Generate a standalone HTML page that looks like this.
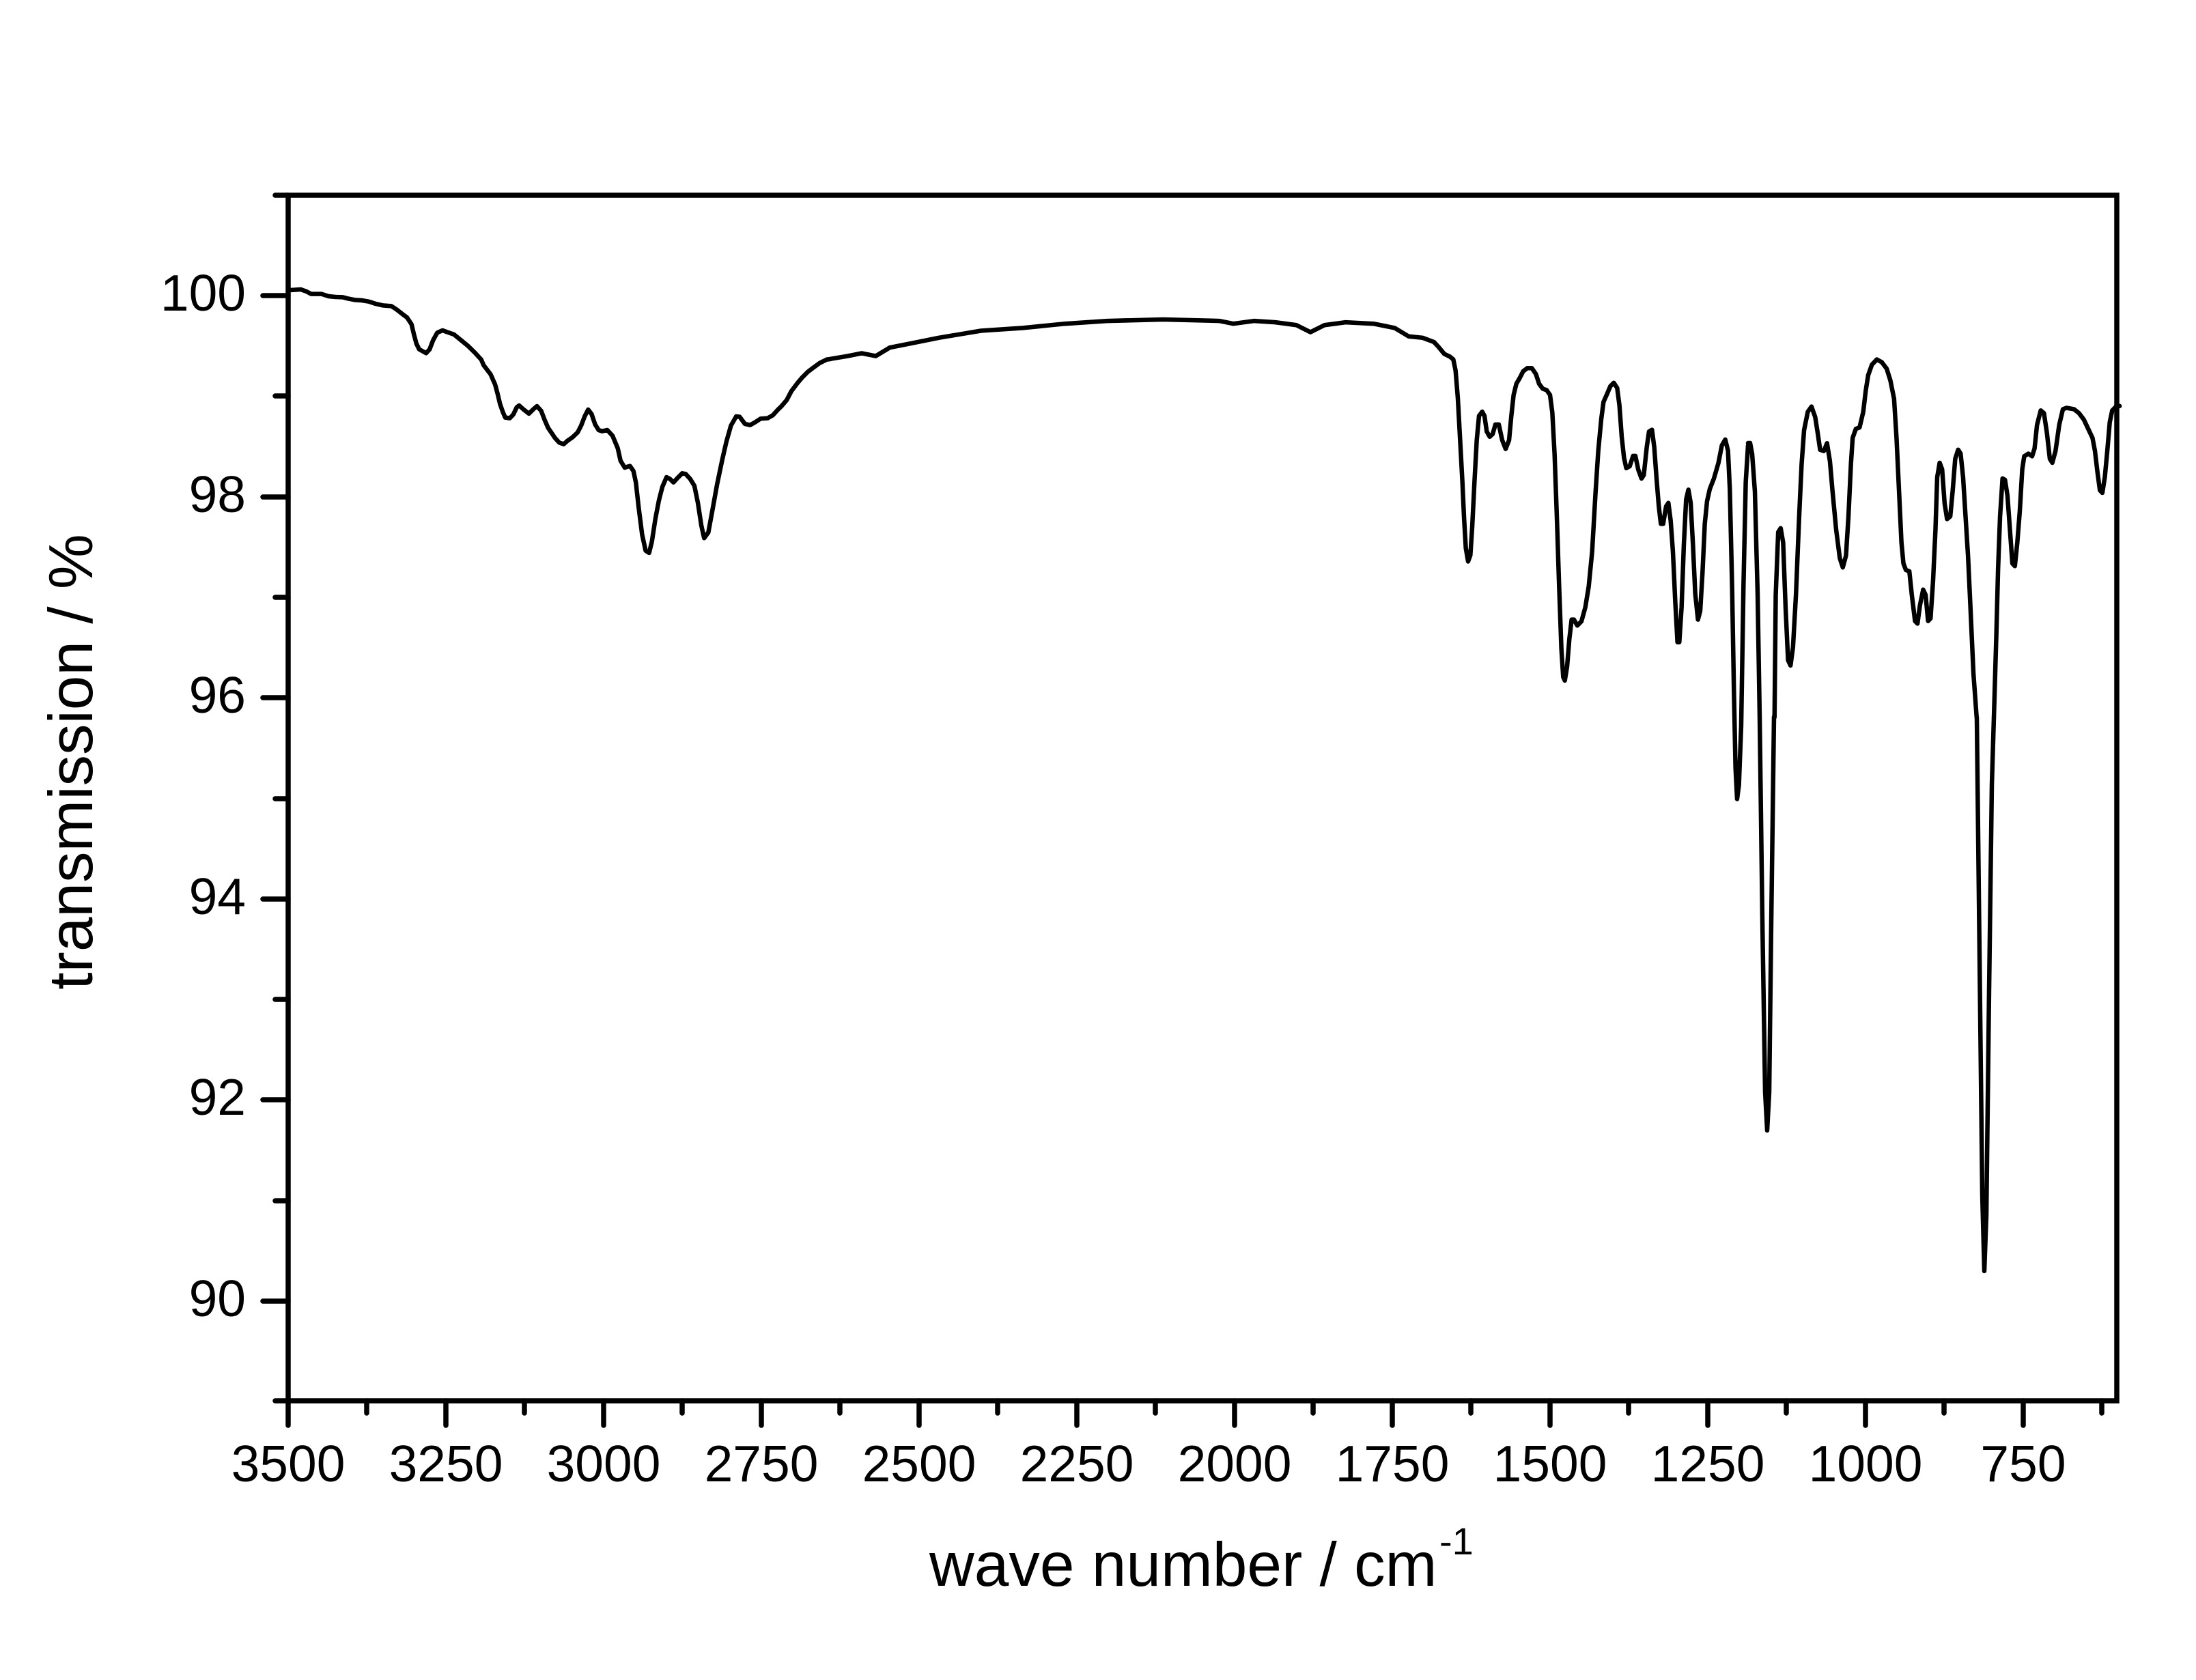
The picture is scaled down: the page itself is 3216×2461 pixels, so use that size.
<!DOCTYPE html>
<html><head><meta charset="utf-8"><style>
html,body{margin:0;padding:0;background:#fff}
svg{display:block}
text{font-family:"Liberation Sans",Arial,sans-serif;fill:#000}
</style></head><body>
<svg width="3216" height="2461" viewBox="0 0 3216 2461" xmlns="http://www.w3.org/2000/svg">
<rect x="0" y="0" width="3216" height="2461" fill="#fff"/>
<g fill="none" stroke="#000" stroke-width="6.5" stroke-linejoin="round" stroke-linecap="round">
<path vector-effect="non-scaling-stroke" transform="translate(420,400) scale(0.5102,0.3333)" d="M10,75 L40,72 55,80 70,92 100,92 120,102 140,105 160,106 175,112 195,118 215,120 235,125 255,135 275,142 300,145 315,160 330,178 345,195 358,225 365,270 372,310 380,335 400,352 410,335 420,295 432,262 447,252 465,262 480,270 500,295 520,320 540,350 558,380 565,405 585,445 598,490 605,530 612,575 620,610 627,635 640,638 650,622 660,590 667,582 680,600 695,618 708,598 718,585 730,605 740,645 750,680 770,725 782,745 795,752 805,738 820,722 835,700 845,670 855,630 865,600 875,620 885,665 895,690 905,695 920,690 935,715 950,770 958,825 970,855 985,848 995,870 1002,920 1010,1030 1020,1150 1030,1220 1040,1230 1048,1180 1058,1080 1068,1000 1078,940 1090,897 1100,905 1110,920 1122,900 1135,880 1145,883 1158,905 1170,935 1180,1010 1190,1110 1198,1165 1210,1140 1222,1040 1235,930 1250,820 1262,740 1275,670 1290,630 1300,632 1315,663 1330,668 1345,655 1360,640 1380,638 1395,625 1410,600 1420,585 1435,558 1448,520 1465,485 1480,458 1495,435 1512,415 1530,395 1550,380 1560,378"/>
<path vector-effect="non-scaling-stroke" transform="translate(422,433) scale(2.0537,2.06) translate(-206,-213)" d="M593,258 L605,256 615,254 625,256 635,250 650,247 670,243 700,238 730,236 760,233 790,231 830,230 870,231 880,233 895,231 910,232 925,234 935,239 945,234 960,232 980,233 995,236 1005,242 1015,243 1023,246"/>
<path vector-effect="non-scaling-stroke" transform="translate(2100,400) scale(0.3333,0.5102)" d="M0,198 L20,212 45,232 70,240 85,248 95,280 105,360 115,480 125,600 132,700 140,790 150,828 160,810 168,730 178,600 188,480 198,410 212,398 222,410 232,455 245,470 258,462 270,435 285,435 300,480 315,505 330,480 340,410 350,350 362,318 378,300 392,282 410,273 430,273 448,290 462,318 478,332 495,336 510,350 520,400 530,520 540,700 550,900 560,1080 568,1160 575,1170 585,1130 595,1050 605,995 615,995 630,1012 648,1000 665,960 680,900 695,800 710,630 722,510 735,420 745,370 760,348 775,325 790,315 805,330 815,380 825,470 835,530 845,560 860,555 875,525 885,525 898,565 912,590 922,580 935,500 945,455 958,450 968,500 978,590 988,670 997,720 1007,720 1020,670 1030,660 1040,710 1050,800 1060,940 1070,1060 1078,1060 1088,960 1098,780 1108,650 1118,622 1128,660 1138,780 1148,920 1160,995 1170,970 1180,860 1190,720 1200,655 1212,620 1230,590 1250,545 1265,495 1280,478 1292,510 1300,620 1310,900 1318,1200 1325,1420 1332,1510 1340,1470 1350,1300 1360,900 1370,600 1380,495"/>
<path d="M2560,649 L2563,649 2566,665 2570,720 2574,870 2577,1050 2581,1350 2585,1600 2588,1656 2591,1600 2594,1350 2598,1050"/>
<path vector-effect="non-scaling-stroke" transform="translate(2550,450) scale(0.361,0.3831)" d="M135,1568 L140,1100 150,860 160,845 170,900 180,1150 190,1350 200,1370 210,1300 222,1100 235,800 245,600 255,470 270,400 285,380 300,420 310,480 320,545 335,550 348,520 360,590 370,700 385,850 400,960 412,995 425,950 435,800 445,600 452,500 465,465 480,460 495,400 505,320 515,260 530,220 550,200 570,210 590,235 605,280 620,350 630,500 640,700 650,900 658,980 668,1005 682,1010 692,1100 705,1200 715,1210 725,1140 738,1080 748,1100 758,1200 768,1190 778,1050 788,850 795,650 805,595 815,620 825,750 835,810 848,800 858,700 868,580 880,545 890,560 900,650 910,800 920,950 930,1150 942,1400 955,1568"/>
<path d="M2895,1051 L2899,1400 2903,1750 2906,1862 2909,1780 2913,1450 2917,1150 2920,1051"/>
<path vector-effect="non-scaling-stroke" transform="translate(2550,450) scale(0.361,0.3831)" d="M1025,1568 L1035,1250 1042,1000 1050,800 1060,655 1070,660 1080,720 1090,850 1100,980 1110,990 1120,900 1130,780 1140,620 1148,570 1165,560 1180,570 1190,540 1200,450 1215,395 1228,405 1240,480 1252,580 1262,595 1275,550 1290,450 1305,390 1320,385 1350,390 1370,405 1390,430 1410,470 1425,500 1435,550 1445,630 1455,700 1465,710 1475,650 1485,550 1495,440 1505,395 1520,380 1535,378"/>
</g>
<g stroke="#000" stroke-width="7.5" fill="none" stroke-linecap="round">
<rect x="422" y="286" width="2678" height="1766"/>
<path d="M422,2052v36M653,2052v36M884,2052v36M1115,2052v36M1346,2052v36M1577,2052v36M1808,2052v36M2039,2052v36M2270,2052v36M2501,2052v36M2732,2052v36M2963,2052v36"/>
<path d="M537,2052v18M768,2052v18M999,2052v18M1230,2052v18M1461,2052v18M1692,2052v18M1923,2052v18M2154,2052v18M2385,2052v18M2616,2052v18M2847,2052v18M3078,2052v18"/>
<path d="M422,433h-37M422,728h-37M422,1022h-37M422,1317h-37M422,1611h-37M422,1906h-37"/>
<path d="M422,286h-19M422,580h-19M422,875h-19M422,1170h-19M422,1464h-19M422,1759h-19M422,2052h-19"/>
</g>
<g font-size="75" text-anchor="middle">
<text x="422" y="2170">3500</text><text x="653" y="2170">3250</text><text x="884" y="2170">3000</text><text x="1115" y="2170">2750</text><text x="1346" y="2170">2500</text><text x="1577" y="2170">2250</text><text x="1808" y="2170">2000</text><text x="2039" y="2170">1750</text><text x="2270" y="2170">1500</text><text x="2501" y="2170">1250</text><text x="2732" y="2170">1000</text><text x="2963" y="2170">750</text>
</g>
<g font-size="75" text-anchor="end">
<text x="360" y="455">100</text><text x="360" y="750">98</text><text x="360" y="1044">96</text><text x="360" y="1339">94</text><text x="360" y="1633">92</text><text x="360" y="1928">90</text>
</g>
<text x="1361" y="2323" font-size="91">wave number / cm</text>
<text x="2108" y="2277" font-size="56">-1</text>
<text transform="translate(135,1116) rotate(-90)" text-anchor="middle" font-size="91">transmission / %</text>
</svg>
</body></html>
